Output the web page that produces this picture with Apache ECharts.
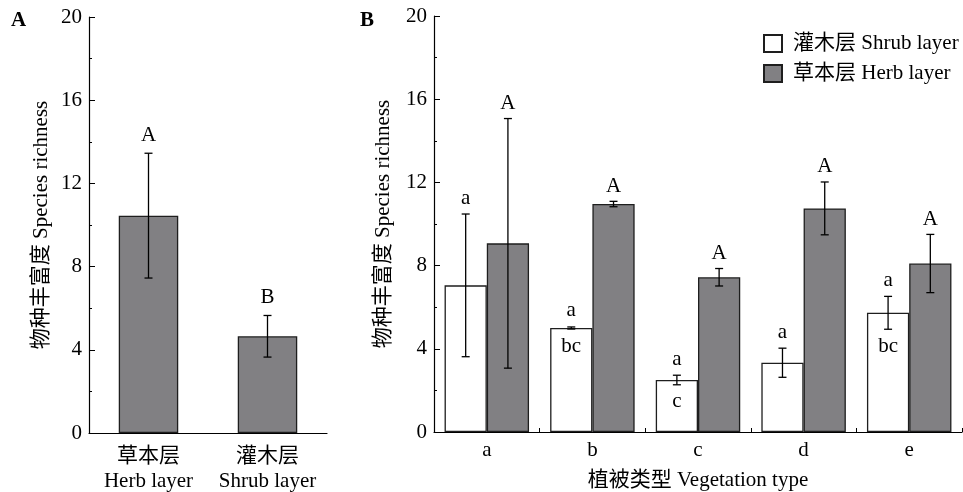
<!DOCTYPE html>
<html>
<head>
<meta charset="utf-8">
<script src="https://cdn.jsdelivr.net/npm/echarts@6/dist/echarts.min.js"></script>
<style>html,body{margin:0;padding:0;background:#fff;}#c{width:963px;height:492px;}</style>
</head>
<body>
<div id="c"></div>
<script>
// ---- data ----
const catsA = ['草本层\nHerb layer', '灌木层\nShrub layer'];
const meanA = [10.45, 4.65];
const errA = [3.0, 1.0];
const letterA = ['A', 'B'];

const catsB = ['a', 'b', 'c', 'd', 'e'];
const shrubMean = [7.05, 5.0, 2.5, 3.33, 5.73];
const shrubErr = [3.43, 0.05, 0.23, 0.7, 0.79];
const shrubUpper = ['a', 'a', 'a', 'a', 'a'];
const shrubLower = ['', 'bc', 'c', '', 'bc'];
const herbMean = [9.07, 10.96, 7.44, 10.75, 8.1];
const herbErr = [6.0, 0.13, 0.42, 1.27, 1.4];
const herbUpper = ['A', 'A', 'A', 'A', 'A'];

const yTicks = [0, 4, 8, 12, 16, 20];
const yName = '物种丰富度 Species richness';
const xNameB = '植被类型 Vegetation type';
const legendNames = ['灌木层 Shrub layer', '草本层 Herb layer'];

// ---- styling ----
const FF = '"Liberation Serif","Times New Roman","Noto Sans CJK SC",serif';
const FS = 21;
const GRAY = '#818083';
const EDGE = '#1e1e1e';

function errRenderer(upper, lower, offFrac, capHalf, gapUp, gapDown) {
  return function (params, api) {
    const i = api.value(0), m = api.value(1), e = api.value(2);
    const band = api.size([1, 0])[0];
    const dx = offFrac * band;
    const t = api.coord([i, m + e]);
    const b = api.coord([i, m - e]);
    const x = t[0] + dx;
    const ls = { stroke: '#000', lineWidth: 1.3 };
    const ch = [
      { type: 'line', shape: { x1: x, y1: t[1], x2: x, y2: b[1] }, style: ls },
      { type: 'line', shape: { x1: x - capHalf, y1: t[1], x2: x + capHalf, y2: t[1] }, style: ls },
      { type: 'line', shape: { x1: x - capHalf, y1: b[1], x2: x + capHalf, y2: b[1] }, style: ls }
    ];
    if (upper && upper[i]) {
      ch.push({ type: 'text', style: { text: upper[i], x: x, y: t[1] - gapUp, textAlign: 'center', textVerticalAlign: 'middle', font: FS + 'px ' + FF, fill: '#000' } });
    }
    if (lower && lower[i]) {
      ch.push({ type: 'text', style: { text: lower[i], x: x, y: b[1] + gapDown, textAlign: 'center', textVerticalAlign: 'middle', font: FS + 'px ' + FF, fill: '#000' } });
    }
    return { type: 'group', children: ch };
  };
}

function yAxisCfg(gridIndex, gap) {
  return {
    gridIndex: gridIndex, type: 'value', min: yTicks[0], max: yTicks[yTicks.length - 1], interval: yTicks[1] - yTicks[0],
    name: yName, nameLocation: 'middle', nameGap: gap, nameRotate: 90,
    nameTextStyle: { fontFamily: FF, fontSize: FS, color: '#000' },
    axisLine: { show: true, lineStyle: { color: '#000', width: 1.2 } },
    axisTick: { show: true, inside: true, length: 6, lineStyle: { color: '#000' } },
    minorTick: { show: true, splitNumber: 2, length: 3, lineStyle: { color: '#000' } },
    axisLabel: { fontFamily: FF, fontSize: FS, color: '#000', margin: 7 },
    splitLine: { show: false }
  };
}

const chart = echarts.init(document.getElementById('c'), null, { renderer: 'canvas' });
chart.setOption({
  animation: false,
  backgroundColor: '#fff',
  textStyle: { fontFamily: FF },
  graphic: [
    { type: 'text', left: 11, top: 10, style: { text: 'A', font: 'bold 21px ' + FF, fill: '#000' } },
    { type: 'text', left: 360, top: 10, style: { text: 'B', font: 'bold 21px ' + FF, fill: '#000' } }
  ],
  legend: {
    data: legendNames, orient: 'vertical', left: 763, top: 33, padding: 0,
    itemWidth: 18, itemHeight: 17, itemGap: 9,
    icon: 'rect',
    textStyle: { fontFamily: FF, fontSize: FS, color: '#000', padding: [0, 0, 0, 6] }
  },
  grid: [
    { left: 89, right: 636, top: 17, bottom: 59, outerBoundsMode: 'none', containLabel: false },
    { left: 434, right: 1, top: 16, bottom: 60, outerBoundsMode: 'none', containLabel: false }
  ],
  xAxis: [
    {
      gridIndex: 0, type: 'category', data: catsA,
      axisLine: { lineStyle: { color: '#000', width: 1.2 } },
      axisTick: { show: true, inside: true, alignWithLabel: true, length: 8, lineStyle: { color: '#000' } },
      axisLabel: { interval: 0, fontFamily: FF, fontSize: FS, color: '#000', lineHeight: 25, margin: 11 }
    },
    {
      gridIndex: 1, type: 'category', data: catsB,
      name: xNameB, nameLocation: 'middle', nameGap: 38,
      nameTextStyle: { fontFamily: FF, fontSize: FS, color: '#000' },
      axisLine: { lineStyle: { color: '#000', width: 1.2 } },
      axisTick: { show: true, inside: true, length: 4, lineStyle: { color: '#000' } },
      axisLabel: { interval: 0, fontFamily: FF, fontSize: FS, color: '#000', margin: 8 }
    }
  ],
  yAxis: [yAxisCfg(0, 37), yAxisCfg(1, 40)],
  series: [
    {
      type: 'bar', xAxisIndex: 0, yAxisIndex: 0, data: meanA, barWidth: '50%',
      itemStyle: { color: GRAY, borderColor: EDGE, borderWidth: 1.3 }
    },
    {
      type: 'custom', xAxisIndex: 0, yAxisIndex: 0, z: 5,
      data: meanA.map((m, i) => [i, m, errA[i]]),
      renderItem: errRenderer(letterA, null, 0, 4, 18, 0)
    },
    {
      name: legendNames[0], type: 'bar', xAxisIndex: 1, yAxisIndex: 1, data: shrubMean, barWidth: '40%', barGap: '0%',
      itemStyle: { color: '#fff', borderColor: EDGE, borderWidth: 1.3 }
    },
    {
      name: legendNames[1], type: 'bar', xAxisIndex: 1, yAxisIndex: 1, data: herbMean, barWidth: '40%', barGap: '0%',
      itemStyle: { color: GRAY, borderColor: EDGE, borderWidth: 1.3 }
    },
    {
      type: 'custom', xAxisIndex: 1, yAxisIndex: 1, z: 5,
      data: shrubMean.map((m, i) => [i, m, shrubErr[i]]),
      renderItem: errRenderer(shrubUpper, shrubLower, -0.2, 4, 16, 17)
    },
    {
      type: 'custom', xAxisIndex: 1, yAxisIndex: 1, z: 5,
      data: herbMean.map((m, i) => [i, m, herbErr[i]]),
      renderItem: errRenderer(herbUpper, null, 0.2, 4, 15, 0)
    }
  ]
});
</script>
</body>
</html>
